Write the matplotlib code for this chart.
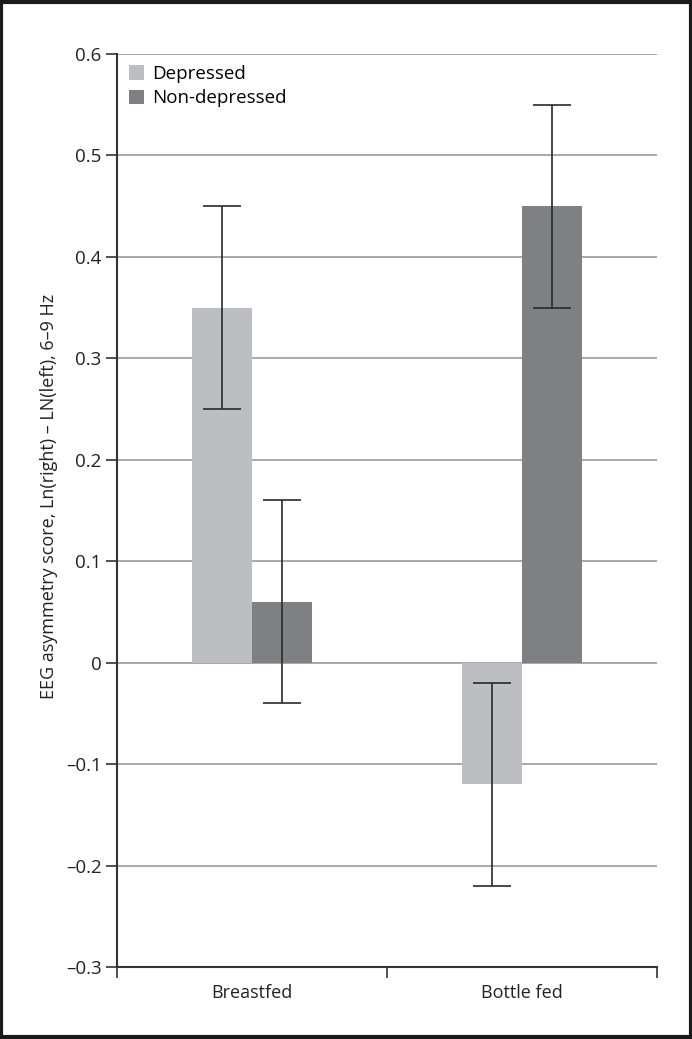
import matplotlib.pyplot as plt
from matplotlib.patches import Rectangle
import numpy as np

plt.rcParams['font.family'] = ['Open Sans', 'DejaVu Sans']

groups = ["Breastfed", "Bottle fed"]
series = ["Depressed", "Non-depressed"]
depressed = [0.35, -0.12]
non_depressed = [0.06, 0.45]
err_depressed = [0.10, 0.10]
err_non_depressed = [0.10, 0.10]
yticks = [-0.3, -0.2, -0.1, 0, 0.1, 0.2, 0.3, 0.4, 0.5, 0.6]

colors = ["#bdbec2", "#7f8084"]

fig = plt.figure(figsize=(6.92, 10.39), dpi=100)
ax = fig.add_axes([117 / 692, 72 / 1039, 540 / 692, 913 / 1039])

centers = np.arange(len(groups)) + 0.5
w = 60 / 270
ax.bar(centers - w / 2, depressed, w, color=colors[0], label=series[0], zorder=2)
ax.bar(centers + w / 2, non_depressed, w, color=colors[1], label=series[1], zorder=2)
ax.errorbar(centers - w / 2, depressed, yerr=err_depressed, fmt="none",
            ecolor="#2a2a2a", elinewidth=1.2, capsize=14, capthick=1.2, zorder=3)
ax.errorbar(centers + w / 2, non_depressed, yerr=err_non_depressed, fmt="none",
            ecolor="#2a2a2a", elinewidth=1.2, capsize=14, capthick=1.2, zorder=3)

ax.set_xlim(0, 2)
ax.set_ylim(-0.3, 0.6)
ax.set_yticks(yticks)
ax.set_yticklabels([f"{v:.1f}".replace("-", "\u2013") if v != 0 else "0" for v in yticks])
ax.yaxis.grid(True, color="#9a9a9a", linewidth=1.2, zorder=0)
ax.set_axisbelow(True)

ax.set_xticks([0, 1, 2])
ax.set_xticklabels([])
ax.set_xticks(centers, minor=True)
ax.set_xticklabels(groups, minor=True)
ax.tick_params(axis="x", which="minor", length=0, pad=12, labelsize=13, colors="#222222")
ax.tick_params(axis="x", which="major", length=8, width=1.2, direction="out", color="#333333")
ax.tick_params(axis="y", length=8, width=1.2, direction="out", color="#333333",
               labelsize=13.5, labelcolor="#222222", pad=3)

for s in ["top", "right"]:
    ax.spines[s].set_visible(False)
for s in ["left", "bottom"]:
    ax.spines[s].set_color("#333333")
    ax.spines[s].set_linewidth(1.5)

ax.set_ylabel("EEG asymmetry score, Ln(right) \u2013 LN(left), 6\u20139 Hz",
              fontsize=13, color="#222222")
ax.yaxis.set_label_coords(-0.11, 0.515)

ax.legend(loc="upper left", frameon=False, fontsize=13.5, handlelength=0.8,
          handleheight=0.8, handletextpad=0.45, labelspacing=0.33,
          bbox_to_anchor=(0.008, 0.996), borderaxespad=0)

fig.patches.append(Rectangle((0.002, 0.002), 0.996, 0.996, transform=fig.transFigure,
                             fill=False, edgecolor="#1a1a1a", linewidth=3))

fig.savefig("out.png", dpi=100)
